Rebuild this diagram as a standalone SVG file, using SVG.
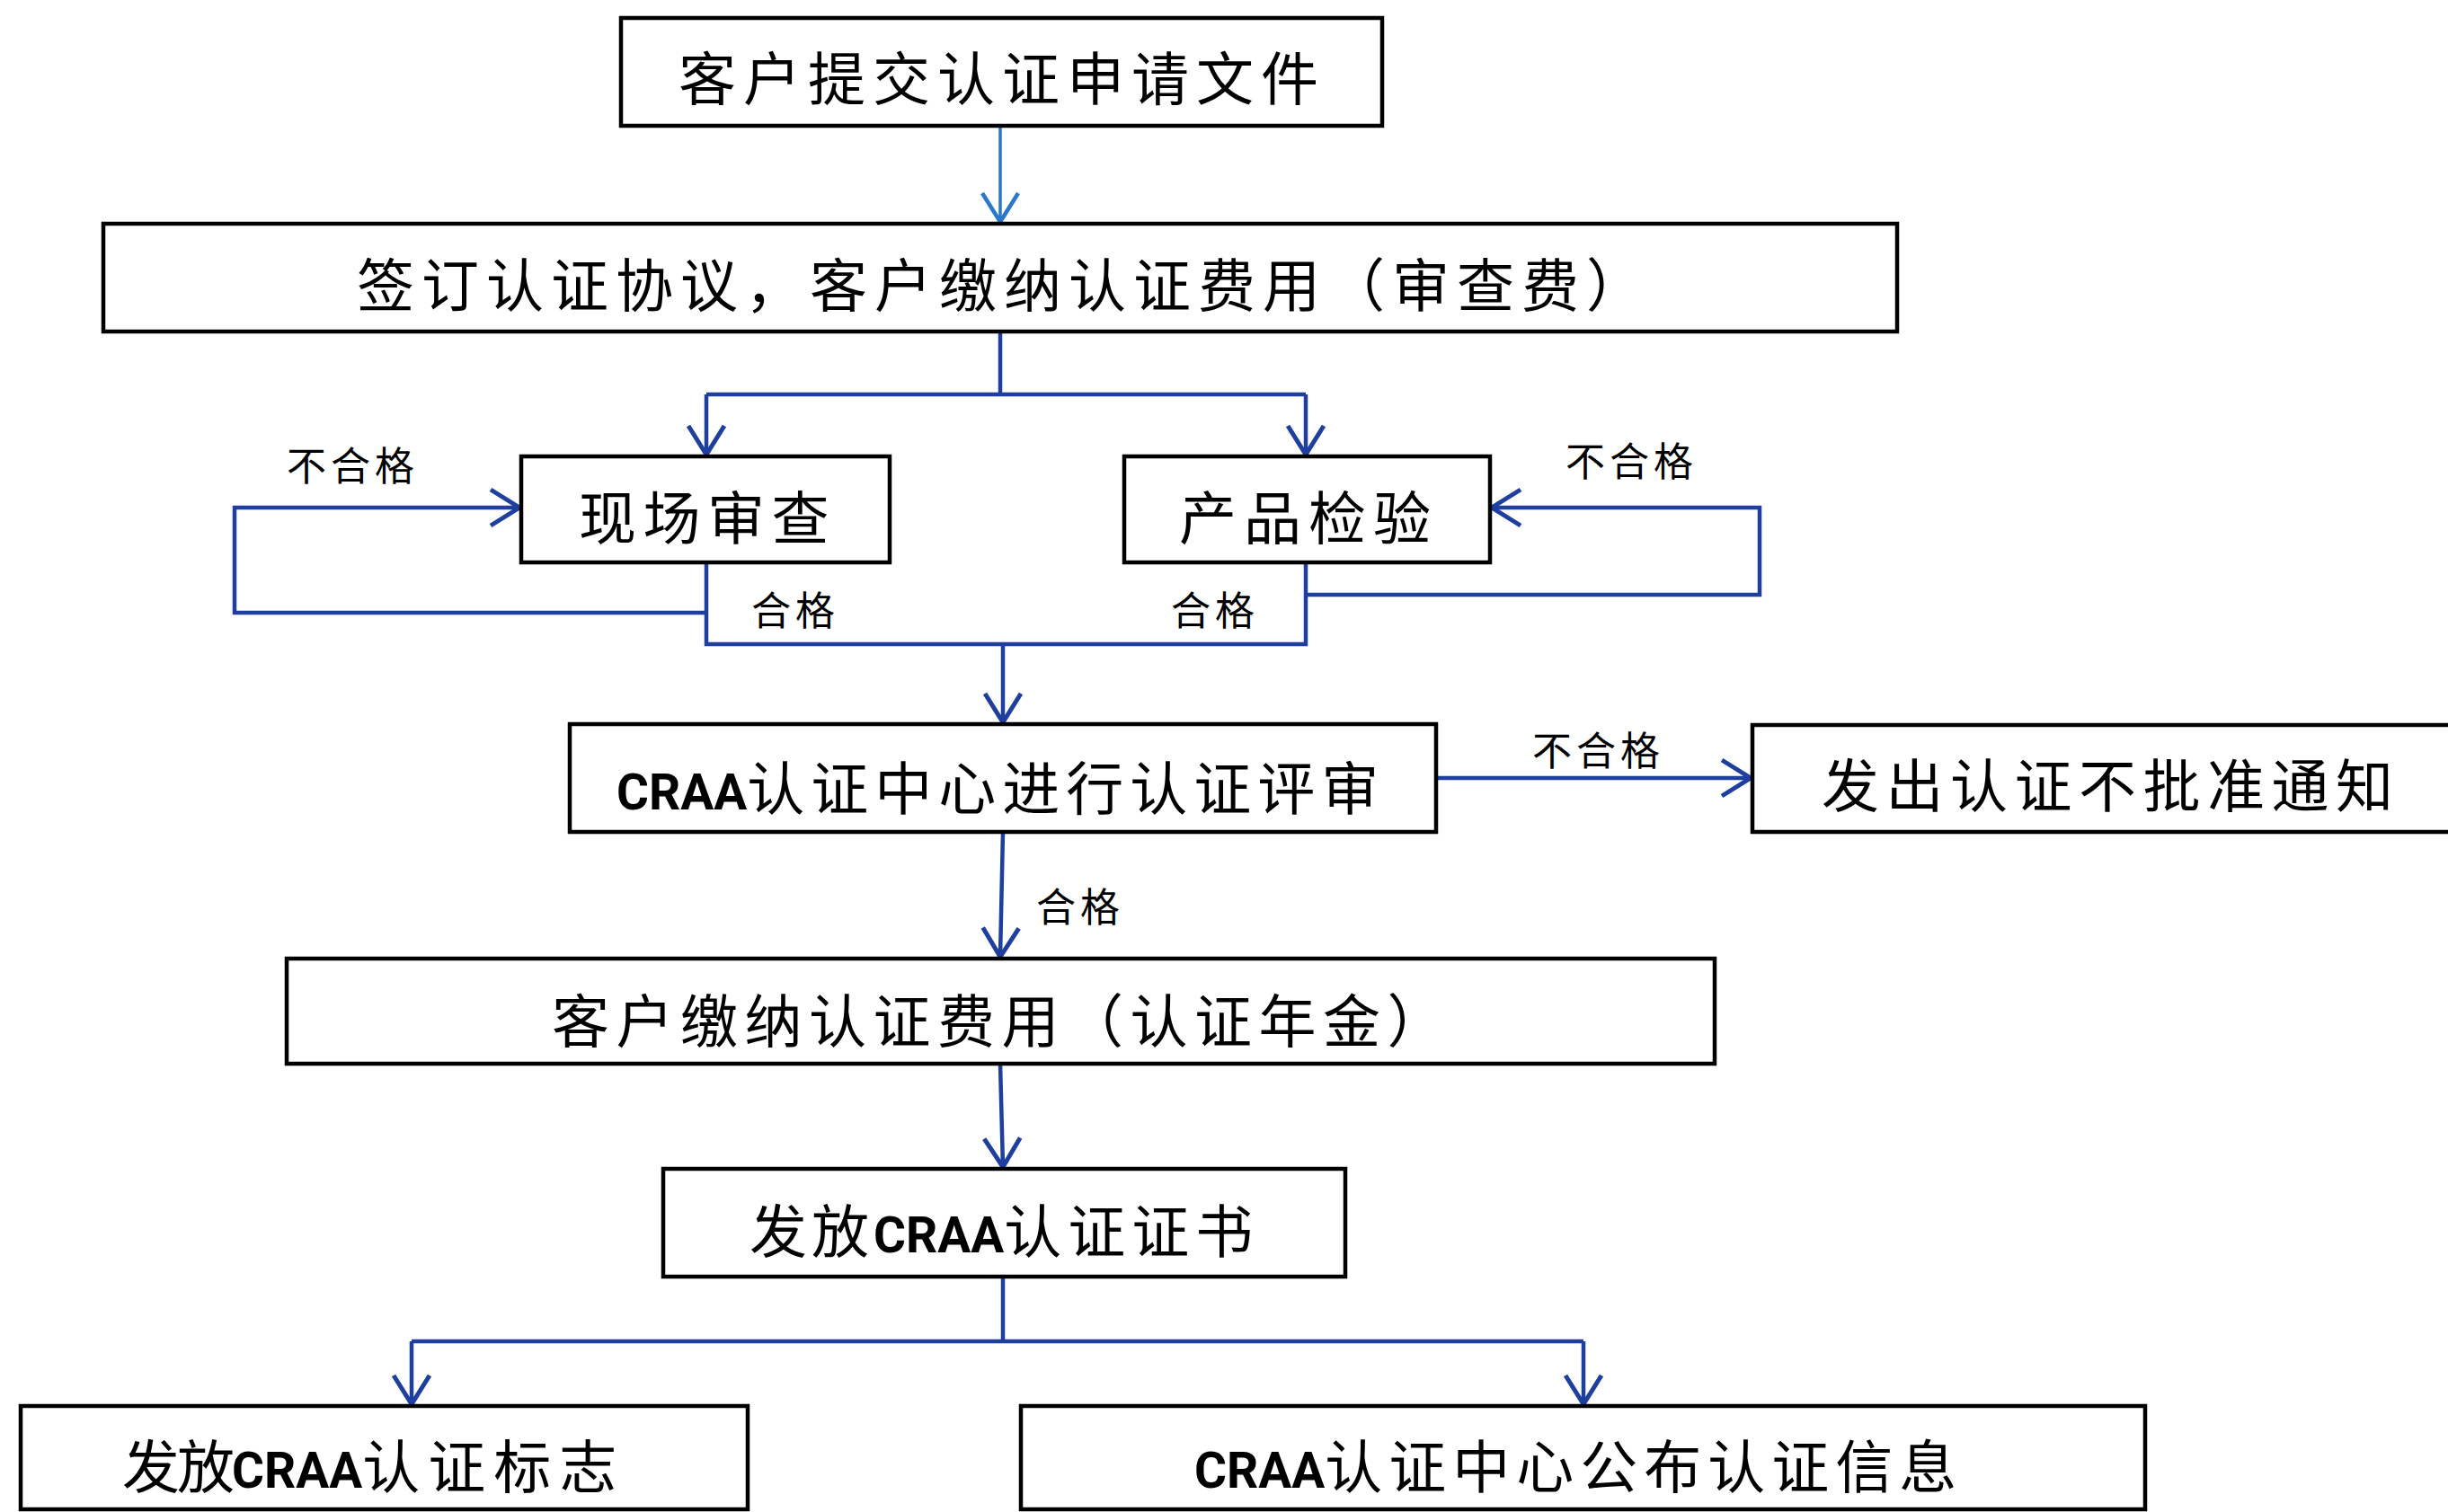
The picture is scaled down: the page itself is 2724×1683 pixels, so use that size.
<svg xmlns="http://www.w3.org/2000/svg" width="2724" height="1683" viewBox="0 0 2724 1683">
<style>
.box{fill:#ffffff;stroke:#000000;stroke-width:4.5}
.t{font-family:"Noto Sans CJK SC","Noto Sans CJK TC",sans-serif;font-size:64px;fill:#000000}
.lat{font-family:Roboto,"Liberation Sans",sans-serif;font-size:55px;font-weight:bold;letter-spacing:0}
.lbl{font-family:"Noto Sans CJK SC","Noto Sans CJK TC",sans-serif;font-size:44px;fill:#000000;letter-spacing:5px}
.c{fill:none;stroke:#1f3f9f;stroke-width:4.5}
.c1{fill:none;stroke:#2a78c8;stroke-width:3.5}
</style>
<defs>
<marker id="ah" markerUnits="userSpaceOnUse" viewBox="-40 -30 50 60" markerWidth="50" markerHeight="60" refX="0" refY="0" orient="auto" overflow="visible">
<path d="M-32,-20 L0,0 L-32,20" fill="none" stroke="#1f3f9f" stroke-width="5"/>
</marker>
<marker id="ah1" markerUnits="userSpaceOnUse" viewBox="-40 -30 50 60" markerWidth="50" markerHeight="60" refX="0" refY="0" orient="auto" overflow="visible">
<path d="M-32,-20 L0,0 L-32,20" fill="none" stroke="#2a78c8" stroke-width="4.5"/>
</marker>
</defs>
<rect x="0" y="0" width="2724" height="1683" fill="#ffffff"/>
<g id="connectors">
<path class="c1" d="M1113,140 V247" marker-end="url(#ah1)"/>
<path class="c" d="M1113,369 V439"/>
<path class="c" d="M786,439 H1453"/>
<path class="c" d="M786,439 V506" marker-end="url(#ah)"/>
<path class="c" d="M1453,439 V506" marker-end="url(#ah)"/>
<path class="c" d="M786,626 V717 H1453 V626"/>
<path class="c" d="M786,682 H261 V565 H578" marker-end="url(#ah)"/>
<path class="c" d="M1453,662 H1958 V565 H1660" marker-end="url(#ah)"/>
<path class="c" d="M1116,717 V804" marker-end="url(#ah)"/>
<path class="c" d="M1598,866 H1948" marker-end="url(#ah)"/>
<path class="c" d="M1116,926 L1113,1065" marker-end="url(#ah)"/>
<path class="c" d="M1113,1184 L1116,1299" marker-end="url(#ah)"/>
<path class="c" d="M1116,1421 V1493"/>
<path class="c" d="M458,1493 H1762"/>
<path class="c" d="M458,1493 V1563" marker-end="url(#ah)"/>
<path class="c" d="M1762,1493 V1563" marker-end="url(#ah)"/>
<text class="lbl" x="319" y="535">不合格</text>
<text class="lbl" x="836" y="696">合格</text>
<text class="lbl" x="1742" y="530">不合格</text>
<text class="lbl" x="1303" y="696">合格</text>
<text class="lbl" x="1705" y="852">不合格</text>
<text class="lbl" x="1153" y="1026">合格</text>
</g>
<g id="n1">
<rect class="box" x="691" y="20" width="847" height="120"/>
<text class="t" x="755" y="111" letter-spacing="8">客户提交认证申请文件</text>
</g>
<g id="n2">
<rect class="box" x="115" y="249" width="1996" height="120"/>
<text class="t" x="397" y="341" letter-spacing="8">签订认证协议，客户缴纳认证费用（审查费）</text>
</g>
<g id="n3">
<rect class="box" x="580" y="508" width="410" height="118"/>
<text class="t" x="644" y="600" letter-spacing="7.5">现场审查</text>
</g>
<g id="n4">
<rect class="box" x="1251" y="508" width="407" height="118"/>
<text class="t" x="1312" y="600" letter-spacing="8">产品检验</text>
</g>
<g id="n5">
<rect class="box" x="634" y="806" width="964" height="120"/>
<text class="t" x="686" y="901"><tspan class="lat">CRAA</tspan><tspan letter-spacing="7">认证中心进行认证评审</tspan></text>
</g>
<g id="n6">
<rect class="box" x="1950" y="807" width="800" height="119"/>
<text class="t" x="2027" y="898" letter-spacing="7.5">发出认证不批准通知</text>
</g>
<g id="n7">
<rect class="box" x="319" y="1067" width="1589" height="117"/>
<text class="t" x="614" y="1160" letter-spacing="7.5">客户缴纳认证费用（认证年金）</text>
</g>
<g id="n8">
<rect class="box" x="738" y="1301" width="759" height="120"/>
<text class="t" x="834" y="1394"><tspan letter-spacing="5">发放</tspan><tspan class="lat">CRAA</tspan><tspan letter-spacing="7">认证证书</tspan></text>
</g>
<g id="n9">
<rect class="box" x="23" y="1565" width="809" height="115"/>
<text class="t" x="136" y="1656"><tspan letter-spacing="-3">发放</tspan><tspan class="lat">CRAA</tspan><tspan letter-spacing="9">认证标志</tspan></text>
</g>
<g id="n10">
<rect class="box" x="1136" y="1565" width="1251" height="115"/>
<text class="t" x="1329" y="1656"><tspan class="lat">CRAA</tspan><tspan letter-spacing="7">认证中心公布认证信息</tspan></text>
</g>
</svg>
